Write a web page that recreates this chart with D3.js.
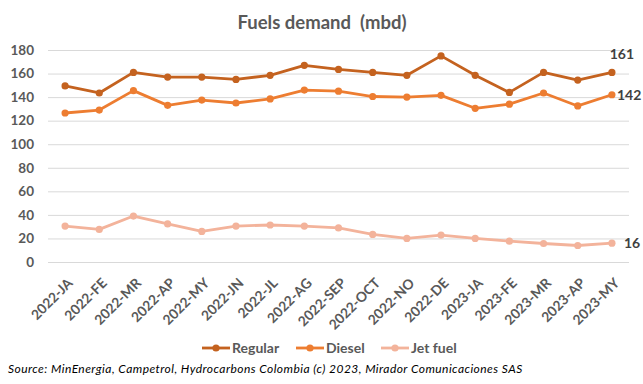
<!DOCTYPE html>
<html><head><meta charset="utf-8">
<script src="https://cdn.jsdelivr.net/npm/d3@7"></script>
<style>body{margin:0;background:#fff;} svg{display:block;}</style>
</head><body>
<svg id="c" width="643" height="384"></svg>
<script>
const months = ["2022-JA","2022-FE","2022-MR","2022-AP","2022-MY","2022-JN","2022-JL","2022-AG","2022-SEP","2022-OCT","2022-NO","2022-DE","2023-JA","2023-FE","2023-MR","2023-AP","2023-MY"];
const regular = [149.5,143.5,161,157,157,155,158.5,167,163.5,161,158.5,175,158.5,144,161,154.5,161];
const diesel  = [126.5,129,145.5,133,137.5,135,138.5,146,145,140.5,140,141.5,130.5,134,143.5,132.5,142];
const jetfuel = [30.5,27.7,39,32.3,26,30.5,31.4,30.5,28.9,23.4,20,22.9,20,17.7,15.7,14,16];
const yTicks = [0,20,40,60,80,100,120,140,160,180];
const seriesNames = ["Regular","Diesel","Jet fuel"];
const endLabels = ["161","142","16"];

const colors = ["#C4621F","#ED7D31","#F3B39B"];
const series = [regular, diesel, jetfuel];

const svg = d3.select("#c");
const x = d3.scalePoint().domain(months).range([48,629]).padding(0.5);
const y = d3.scaleLinear().domain([0,180]).range([262,50]);

const txt = "#595959";
const font = "Lato, 'Open Sans', sans-serif";

svg.append("text").attr("x",322).attr("y",29).attr("text-anchor","middle").style("white-space","pre")
  .attr("font-family",font).attr("font-weight","bold").attr("font-size",18.5).attr("fill",txt)
  .text("Fuels demand  (mbd)");

// grid
const yAxis = d3.axisLeft(y).tickValues(yTicks).tickSize(-(629-48)).tickPadding(14);
const gy = svg.append("g").attr("transform","translate(48,0)").call(yAxis);
gy.select(".domain").remove();
gy.selectAll(".tick line").attr("stroke","#D9D9D9").attr("stroke-width",1);
gy.selectAll(".tick text").attr("font-family",font).attr("font-weight","bold").attr("font-size",13.5).attr("fill",txt);

// x axis labels
const xAxis = d3.axisBottom(x).tickSize(0).tickPadding(0);
const gx = svg.append("g").attr("transform","translate(0,262)").call(xAxis);
gx.select(".domain").remove();
gx.selectAll(".tick text").attr("font-family",font).attr("font-weight","bold").attr("font-size",13.8).attr("fill",txt)
  .attr("text-anchor","end").attr("dy",0).attr("transform","translate(8,22) rotate(-45)");

const line = d3.line().x((d,i)=>x(months[i])).y(d=>y(d));
series.forEach((s,k)=>{
  const g = svg.append("g");
  g.append("path").datum(s).attr("d",line).attr("fill","none").attr("stroke",colors[k]).attr("stroke-width",2.8).attr("stroke-linejoin","round");
  g.selectAll("circle").data(s).join("circle").attr("cx",(d,i)=>x(months[i])).attr("cy",d=>y(d)).attr("r",3.6).attr("fill",colors[k]);
});

// end labels
const last = months.length-1;
svg.append("text").attr("x",x(months[last])+10).attr("y",y(regular[last])-13).attr("text-anchor","middle")
  .attr("font-family",font).attr("font-weight","bold").attr("font-size",14).attr("fill","#404040").text(endLabels[0]);
svg.append("text").attr("x",x(months[last])+5).attr("y",y(diesel[last])+5).attr("text-anchor","start")
  .attr("font-family",font).attr("font-weight","bold").attr("font-size",14).attr("fill","#404040").text(endLabels[1]);
svg.append("text").attr("x",x(months[last])+12).attr("y",y(jetfuel[last])+5).attr("text-anchor","start")
  .attr("font-family",font).attr("font-weight","bold").attr("font-size",14).attr("fill","#404040").text(endLabels[2]);

// legend
const legX = [202,296,381];
seriesNames.forEach((n,k)=>{
  const g = svg.append("g").attr("transform",`translate(${legX[k]},348)`);
  g.append("line").attr("x1",0).attr("x2",28).attr("y1",0).attr("y2",0).attr("stroke",colors[k]).attr("stroke-width",2.8);
  g.append("circle").attr("cx",14).attr("cy",0).attr("r",3.6).attr("fill",colors[k]);
  g.append("text").attr("x",30).attr("y",5).attr("font-family",font).attr("font-weight","bold").attr("font-size",14).attr("fill",txt).text(n);
});

svg.append("text").attr("x",8).attr("y",373).attr("font-family",font).attr("font-style","italic").attr("font-size",12).attr("letter-spacing",0.45).attr("fill","#000")
  .text("Source:  MinEnergia,  Campetrol,  Hydrocarbons  Colombia  (c) 2023,  Mirador Comunicaciones SAS");
</script>
</body></html>
